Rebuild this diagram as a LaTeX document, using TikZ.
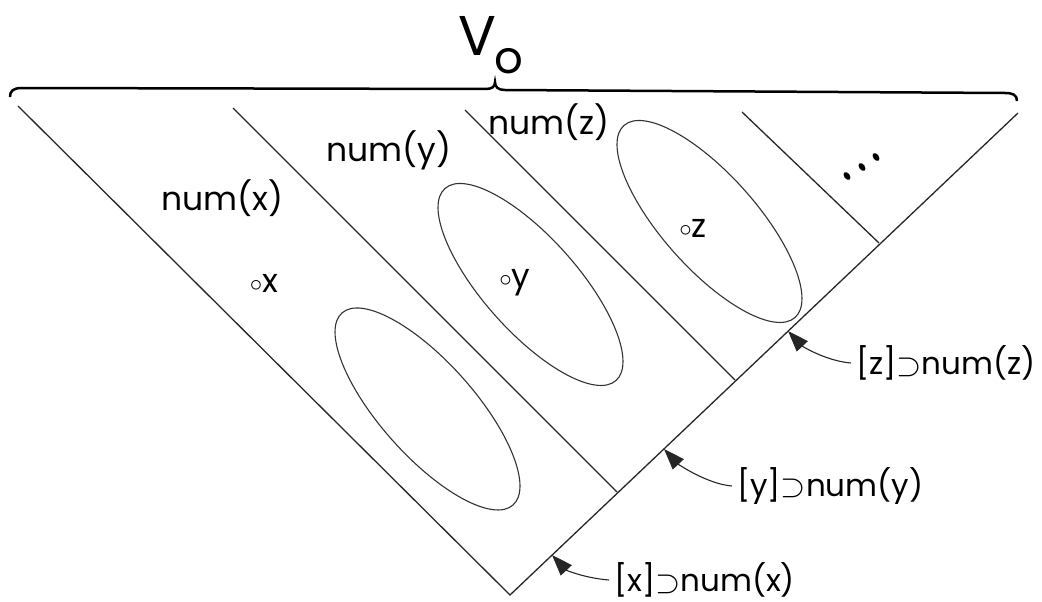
\documentclass[tikz,border=0pt]{standalone}
\usepackage{fontspec}
\setmainfont{Poppins}
\usetikzlibrary{arrows.meta}
\newcommand\mycirc{\raisebox{1pt}{\fontsize{44}{44}\selectfont$\circ$}}
\newcommand\mysup{\raisebox{-0.5pt}{\scalebox{1.3}{$\supset$}}}
\begin{document}
\begin{tikzpicture}[x=1pt,y=-1pt,
  edge/.style={line width=1.3pt, black!85},
  oval/.style={line width=1.1pt, black!80},
  lbl/.style={font=\fontsize{33}{36}\selectfont, inner sep=1pt},
  rlbl/.style={font=\fontsize{31}{34}\selectfont, inner sep=1pt, anchor=west},
  arr/.style={line width=1.1pt, black!85, -{Triangle[length=21pt,width=15pt]}},
  dotmark/.style={fill=black}]
\useasboundingbox (0,0) rectangle (1042,602);
% corners
\coordinate (TL) at (18,106);
\coordinate (TR) at (1018,113);
\coordinate (B) at (510,595);
\coordinate (A2) at (233,108);
\coordinate (E2) at (617,492);
\coordinate (A3) at (465,110);
\coordinate (E3) at (735,380);
\coordinate (A4) at (742,112);
\coordinate (E4) at (879,243);
% triangle and dividers
\draw[edge] (TL) -- (B) -- (TR);
\draw[edge] (A2) -- (E2);
\draw[edge] (A3) -- (E3);
\draw[edge] (A4) -- (E4);
% ellipses
\coordinate (C1) at (427.5,409);
\coordinate (C2) at (530.5,284.5);
\coordinate (C3) at (709.5,221.5);
\draw[oval, rotate around={-48.3:(C1)}] (C1) ellipse [x radius=128.6pt, y radius=47pt];
\draw[oval, rotate around={-48.3:(C2)}] (C2) ellipse [x radius=128.6pt, y radius=47pt];
\draw[oval, rotate around={-48.3:(C3)}] (C3) ellipse [x radius=128.6pt, y radius=47pt];
% brace
\draw[line width=2.5pt, black] (10,97) .. controls (10,91) and (13,88) .. (22,88) -- (485,89)
  .. controls (492,89) and (495,87) .. (495,82) .. controls (495,87) and (498,90) .. (505,90)
  -- (1005,93) .. controls (1013,93) and (1017,95) .. (1017,101);
\node[font=\fontsize{56}{60}\selectfont, inner sep=0pt] (V) at (477,36) {V};
\node[font=\fontsize{45}{50}\selectfont, inner sep=0pt] (o) at (509,61) {o};
% labels
\node[lbl] (nx) at (222,198) {num(x)};
\node[lbl] (ny) at (389,150) {num(y)};
\node[lbl] (nz) at (549,122) {num(z)};
\node[lbl] (px) at (264,283) {\mycirc x};
\node[lbl] (py) at (515,283) {\mycirc y};
\node[lbl] (pz) at (693,228) {\mycirc z};
% dots
\fill[dotmark, rotate around={-55:(847,176)}] (847,176) ellipse [x radius=4.5pt, y radius=2.8pt];
\fill[dotmark, rotate around={-55:(862,167)}] (862,167) ellipse [x radius=4.5pt, y radius=2.8pt];
\fill[dotmark, rotate around={-55:(876,157)}] (876,157) ellipse [x radius=4.5pt, y radius=2.8pt];
% right labels and arrows
\node[rlbl] (lz) at (855,363) {[z]\mysup num(z)};
\node[rlbl] (ly) at (736,486) {[y]\mysup num(y)};
\node[rlbl] (lx) at (613,580) {[x]\mysup num(x)};
\coordinate (tz) at (788,331);
\coordinate (ty) at (664,449);
\coordinate (tx) at (552,555);
\draw[arr] ([xshift=-4pt]lz.west) .. controls +(-25,-2) and +(14,15) .. (tz);
\draw[arr] ([xshift=-4pt]ly.west) .. controls +(-25,-2) and +(14,15) .. (ty);
\draw[arr] ([xshift=-4pt]lx.west) .. controls +(-25,-2) and +(14,15) .. (tx);
\end{tikzpicture}
\end{document}
